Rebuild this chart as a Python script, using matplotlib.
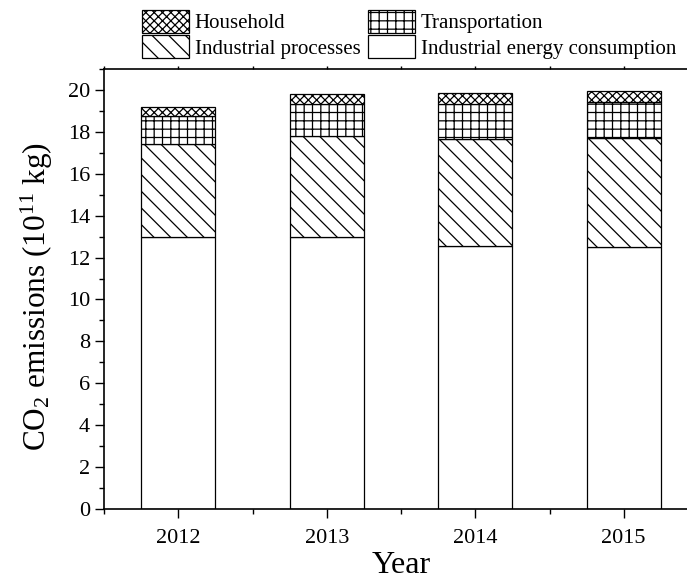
import matplotlib
matplotlib.use("Agg")
import matplotlib.pyplot as plt
from matplotlib.ticker import MultipleLocator
import numpy as np

plt.rcParams['font.family'] = ['Liberation Serif', 'DejaVu Serif']
plt.rcParams['mathtext.fontset'] = 'custom'
plt.rcParams['mathtext.rm'] = 'Liberation Serif'
plt.rcParams['mathtext.it'] = 'Liberation Serif:italic'
plt.rcParams['hatch.linewidth'] = 0.9

years = [2012, 2013, 2014, 2015]
energy = [13.0, 13.0, 12.55, 12.52]
processes = [4.43, 4.80, 5.13, 5.18]
transport = [1.32, 1.53, 1.64, 1.74]
household = [0.44, 0.46, 0.52, 0.50]

fig = plt.figure(figsize=(6.87, 5.79), dpi=100)
ax = fig.add_axes([104/687, 70/579, 594/687, 440/579])

x = np.array(years, dtype=float)
w = 0.5
b1 = ax.bar(x, energy, w, color='white', edgecolor='black', linewidth=0.9,
            label='Industrial energy consumption')
bot = np.array(energy)
b2 = ax.bar(x, processes, w, bottom=bot, color='white', edgecolor='black',
            linewidth=0.9, hatch='\\\\', label='Industrial processes')
bot = bot + np.array(processes)
b3 = ax.bar(x, transport, w, bottom=bot, color='white', edgecolor='black',
            linewidth=0.9, hatch='++', label='Transportation')
bot = bot + np.array(transport)
b4 = ax.bar(x, household, w, bottom=bot, color='white', edgecolor='black',
            linewidth=0.9, hatch='xxxx', label='Household')

ax.set_xlim(2011.5, 2015.5)
ax.set_ylim(0, 21)
ax.set_xticks(years)
ax.set_xticklabels([str(y) for y in years])
ax.xaxis.set_minor_locator(MultipleLocator(0.5))
ax.yaxis.set_major_locator(MultipleLocator(2))
ax.yaxis.set_minor_locator(MultipleLocator(1))
ax.tick_params(axis='both', which='major', direction='out', length=6.5, width=1, labelsize=16)
ax.tick_params(axis='both', which='minor', direction='out', length=3.5, width=1)
ax.tick_params(axis='x', which='both', top=True)
ax.tick_params(axis='x', which='major', pad=8)
ax.tick_params(axis='y', which='major', pad=3.5)
for s in ax.spines.values():
    s.set_linewidth(1.2)

ax.set_xlabel('Year', fontsize=23, labelpad=2)
ax.set_ylabel(r'CO$_2$ emissions (10$^{11}$ kg)', fontsize=22.5, labelpad=6)
ax.yaxis.set_label_coords(-0.083, 0.482)

# top tick marks small
for t in ax.xaxis.get_major_ticks() + ax.xaxis.get_minor_ticks():
    t.tick2line.set_markersize(2)

fig.legend(handles=[b4, b2, b3, b1],
           labels=['Household', 'Industrial processes', 'Transportation', 'Industrial energy consumption'],
           ncol=2, loc='upper left', bbox_to_anchor=(142/687, 1 - 10/579),
           frameon=False, fontsize=15, handlelength=2.25, handleheight=1.3,
           handletextpad=0.28, columnspacing=0.37, labelspacing=0.1, borderpad=0.0,
           borderaxespad=0.0)

fig.savefig('out.png', dpi=100)
